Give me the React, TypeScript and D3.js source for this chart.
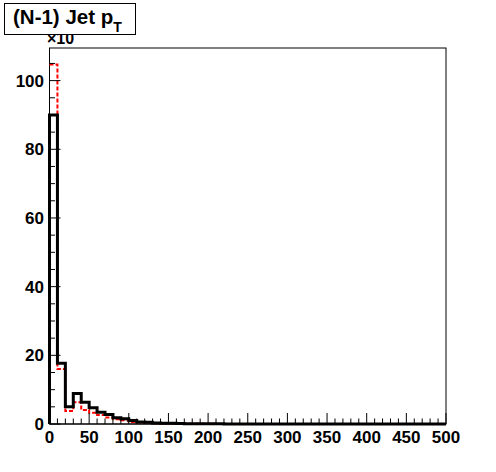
import React from "react";
import * as d3 from "d3";

const binEdgesStart = 0;
const binWidth = 10;
// values in units of 10^3 entries
const blackValues = [
  90, 17.7, 5.0, 8.9, 6.3, 4.7, 3.4, 2.8, 1.8, 1.5, 1.0, 0.6, 0.5, 0.3, 0.25, 0.2, 0.15, 0.1,
  0.08, 0.06, 0.05, 0.04, 0.03, 0.03, 0.02, 0.02, 0.01, 0.01, 0.01, 0.01, 0, 0, 0, 0, 0, 0, 0, 0,
  0, 0, 0, 0, 0, 0, 0, 0, 0, 0, 0, 0,
];
const redValues = [
  104.7, 16.0, 3.8, 6.3, 4.1, 3.3, 2.6, 1.9, 1.4, 1.1, 0.6, 0.45, 0.35, 0.25, 0.2, 0.15, 0.1,
  0.08, 0.06, 0.05, 0.04, 0.03, 0.02, 0.02, 0.01, 0.01, 0.01, 0, 0, 0, 0, 0, 0, 0, 0, 0, 0, 0, 0,
  0, 0, 0, 0, 0, 0, 0, 0, 0, 0, 0,
];
const xTicks = [0, 50, 100, 150, 200, 250, 300, 350, 400, 450, 500];
const yTicks = [0, 20, 40, 60, 80, 100];
const titleText = "(N-1) Jet p";
const titleSub = "T";
const exponentText = "\u00d710";

const FONT = "'Liberation Sans', Arial, Helvetica, sans-serif";

function histPath(
  values: number[],
  x: d3.ScaleLinear<number, number>,
  y: d3.ScaleLinear<number, number>,
  fromBase: boolean
) {
  const pts: [number, number][] = fromBase ? [[binEdgesStart, 0]] : [];
  values.forEach((v, i) => {
    const x0 = binEdgesStart + i * binWidth;
    pts.push([x0, v]);
    pts.push([x0 + binWidth, v]);
  });
  pts.push([binEdgesStart + values.length * binWidth, 0]);
  return d3
    .line<[number, number]>()
    .x((d) => x(d[0]))
    .y((d) => y(d[1]))(pts);
}

export default function App() {
  const W = 496;
  const H = 472;
  const left = 49.5;
  const right = 446;
  const top = 48;
  const bottom = 424;
  const x = d3.scaleLinear().domain([0, 500]).range([left, right]);
  const y = d3.scaleLinear().domain([0, 109.5]).range([bottom, top]);
  const xMinor = d3.range(0, 501, 10);
  const yMinor = d3.range(0, 109, 5);

  return (
    <svg
      width={W}
      height={H}
      style={{ position: "absolute", left: 0, top: 0, background: "#fff" }}
      fontFamily={FONT}
    >
      <rect x={0} y={0} width={W} height={H} fill="#fff" />
      {/* exponent, partially hidden by title box */}
      <text x={47} y={44} fontSize={16} fontWeight="bold">
        {exponentText}
      </text>
      <rect x={left} y={top} width={right - left} height={bottom - top} fill="none" stroke="#000" strokeWidth={1} />
      {/* histograms */}
      <path
        d={histPath(redValues, x, y, false) || ""}
        fill="none"
        stroke="#ff0000"
        strokeWidth={2}
        strokeDasharray="4,2"
      />
      <path d={histPath(blackValues, x, y, true) || ""} fill="none" stroke="#000" strokeWidth={3} />
      {/* x ticks */}
      {xMinor.map((t) => (
        <line
          key={"xm" + t}
          x1={x(t)}
          x2={x(t)}
          y1={bottom}
          y2={bottom - (t % 50 === 0 ? 11 : 5.5)}
          stroke="#000"
          strokeWidth={1}
        />
      ))}
      {xTicks.map((t) => (
        <text key={"xl" + t} x={x(t)} y={443} fontSize={17} fontWeight="bold" textAnchor="middle">
          {t}
        </text>
      ))}
      {/* y ticks */}
      {yMinor.map((t) => (
        <line
          key={"ym" + t}
          x1={left}
          x2={left + (t % 20 === 0 ? 11 : 5.5)}
          y1={y(t)}
          y2={y(t)}
          stroke="#000"
          strokeWidth={1}
        />
      ))}
      {yTicks.map((t) => (
        <text key={"yl" + t} x={44} y={y(t) + 6} fontSize={17} fontWeight="bold" textAnchor="end">
          {t}
        </text>
      ))}
      <line x1={left} x2={right} y1={bottom} y2={bottom} stroke="#000" strokeWidth={1} />
      {/* title box */}
      <rect x={4.5} y={3.5} width={131} height={31} fill="#fff" stroke="#000" strokeWidth={1} />
      <text x={13} y={24} fontSize={20.5} fontWeight="bold">
        {titleText}
        <tspan fontSize={14} dy={8}>
          {titleSub}
        </tspan>
      </text>
    </svg>
  );
}
